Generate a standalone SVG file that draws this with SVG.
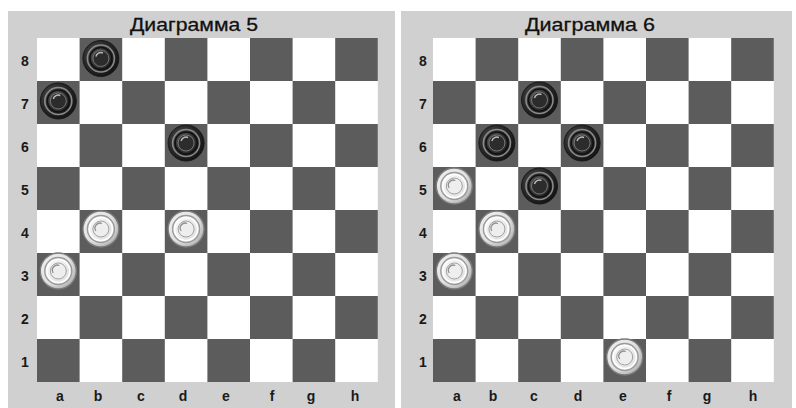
<svg xmlns="http://www.w3.org/2000/svg" xmlns:xlink="http://www.w3.org/1999/xlink" width="796" height="408" viewBox="0 0 796 408">
<defs>
<style>
.panel{fill:#d0d0d0}
.lt{fill:#ffffff}
.dk{fill:#5c5c5c}
.title{font-family:"Liberation Sans",Arial,sans-serif;font-size:19px;fill:#111;stroke:#111;stroke-width:0.3}
.lbl{font-family:"Liberation Sans",Arial,sans-serif;font-size:14px;font-weight:bold;fill:#1a1a1a;text-anchor:middle}
</style>
<radialGradient id="bgrad" cx="0.4" cy="0.4" r="0.65">
<stop offset="0" stop-color="#5a5a5a"/>
<stop offset="0.6" stop-color="#2a2a2a"/>
<stop offset="1" stop-color="#111"/>
</radialGradient>
<radialGradient id="wgrad" cx="0.4" cy="0.4" r="0.65">
<stop offset="0" stop-color="#fafafa"/>
<stop offset="0.7" stop-color="#e2e2e2"/>
<stop offset="1" stop-color="#a8a8a8"/>
</radialGradient>
<g id="black">
<circle r="18" fill="url(#bgrad)" stroke="#1a1a1a" stroke-width="1"/>
<circle r="13.5" fill="none" stroke="#8a8a8a" stroke-width="1.6"/>
<circle r="11" fill="none" stroke="#111" stroke-width="1.5"/>
<circle r="8" fill="#2c2c2c" stroke="#777" stroke-width="1"/>
<path d="M-5,-2 A5,5 0 0 1 2,-5.5" fill="none" stroke="#bbb" stroke-width="1.4"/>
</g>
<g id="white">
<circle r="18" fill="url(#wgrad)" stroke="#7a7a7a" stroke-width="1.3"/>
<circle r="13.5" fill="none" stroke="#9a9a9a" stroke-width="1.4"/>
<circle r="11.5" fill="none" stroke="#ffffff" stroke-width="1.5"/>
<circle r="8" fill="#eeeeee" stroke="#a0a0a0" stroke-width="1"/>
<path d="M-5,2 A5,5 0 0 1 1,-5.5" fill="none" stroke="#909090" stroke-width="1.3"/>
</g>
</defs>
<rect width="796" height="408" fill="#ffffff"/>

<g id="diagram5">
<rect class="panel" x="8" y="11" width="387" height="397"/>
<text class="title" x="130" y="31" textLength="128" lengthAdjust="spacingAndGlyphs">Диаграмма 5</text>
<g id="board5">
<rect class="lt" x="37" y="38" width="340.8" height="344"/>
<rect class="dk" x="79.6" y="38" width="42.6" height="43"/>
<rect class="dk" x="164.8" y="38" width="42.6" height="43"/>
<rect class="dk" x="250" y="38" width="42.6" height="43"/>
<rect class="dk" x="335.2" y="38" width="42.6" height="43"/>
<rect class="dk" x="37" y="81" width="42.6" height="43"/>
<rect class="dk" x="122.2" y="81" width="42.6" height="43"/>
<rect class="dk" x="207.4" y="81" width="42.6" height="43"/>
<rect class="dk" x="292.6" y="81" width="42.6" height="43"/>
<rect class="dk" x="79.6" y="124" width="42.6" height="43"/>
<rect class="dk" x="164.8" y="124" width="42.6" height="43"/>
<rect class="dk" x="250" y="124" width="42.6" height="43"/>
<rect class="dk" x="335.2" y="124" width="42.6" height="43"/>
<rect class="dk" x="37" y="167" width="42.6" height="43"/>
<rect class="dk" x="122.2" y="167" width="42.6" height="43"/>
<rect class="dk" x="207.4" y="167" width="42.6" height="43"/>
<rect class="dk" x="292.6" y="167" width="42.6" height="43"/>
<rect class="dk" x="79.6" y="210" width="42.6" height="43"/>
<rect class="dk" x="164.8" y="210" width="42.6" height="43"/>
<rect class="dk" x="250" y="210" width="42.6" height="43"/>
<rect class="dk" x="335.2" y="210" width="42.6" height="43"/>
<rect class="dk" x="37" y="253" width="42.6" height="43"/>
<rect class="dk" x="122.2" y="253" width="42.6" height="43"/>
<rect class="dk" x="207.4" y="253" width="42.6" height="43"/>
<rect class="dk" x="292.6" y="253" width="42.6" height="43"/>
<rect class="dk" x="79.6" y="296" width="42.6" height="43"/>
<rect class="dk" x="164.8" y="296" width="42.6" height="43"/>
<rect class="dk" x="250" y="296" width="42.6" height="43"/>
<rect class="dk" x="335.2" y="296" width="42.6" height="43"/>
<rect class="dk" x="37" y="339" width="42.6" height="43"/>
<rect class="dk" x="122.2" y="339" width="42.6" height="43"/>
<rect class="dk" x="207.4" y="339" width="42.6" height="43"/>
<rect class="dk" x="292.6" y="339" width="42.6" height="43"/>
</g>
<g id="ranks5">
<text class="lbl" x="25" y="66">8</text>
<text class="lbl" x="25" y="109">7</text>
<text class="lbl" x="25" y="152">6</text>
<text class="lbl" x="25" y="195">5</text>
<text class="lbl" x="25" y="238">4</text>
<text class="lbl" x="25" y="281">3</text>
<text class="lbl" x="25" y="324">2</text>
<text class="lbl" x="25" y="367">1</text>
</g>
<g id="files5">
<text class="lbl" x="60" y="401">a</text>
<text class="lbl" x="98" y="401">b</text>
<text class="lbl" x="141" y="401">c</text>
<text class="lbl" x="183" y="401">d</text>
<text class="lbl" x="226" y="401">e</text>
<text class="lbl" x="272" y="401">f</text>
<text class="lbl" x="311" y="401">g</text>
<text class="lbl" x="355" y="401">h</text>
</g>
<g id="pieces5">
<use xlink:href="#black" x="100.9" y="58.5"/>
<use xlink:href="#black" x="58.3" y="101"/>
<use xlink:href="#black" x="186.1" y="143"/>
<use xlink:href="#white" x="100.9" y="229"/>
<use xlink:href="#white" x="186.1" y="229"/>
<use xlink:href="#white" x="58.3" y="271"/>
</g>
</g>

<g id="diagram6">
<rect class="panel" x="401" y="11" width="391" height="397"/>
<text class="title" x="525" y="31" textLength="130" lengthAdjust="spacingAndGlyphs">Диаграмма 6</text>
<g id="board6">
<rect class="lt" x="433" y="38" width="340.8" height="344"/>
<rect class="dk" x="475.6" y="38" width="42.6" height="43"/>
<rect class="dk" x="560.8" y="38" width="42.6" height="43"/>
<rect class="dk" x="646" y="38" width="42.6" height="43"/>
<rect class="dk" x="731.2" y="38" width="42.6" height="43"/>
<rect class="dk" x="433" y="81" width="42.6" height="43"/>
<rect class="dk" x="518.2" y="81" width="42.6" height="43"/>
<rect class="dk" x="603.4" y="81" width="42.6" height="43"/>
<rect class="dk" x="688.6" y="81" width="42.6" height="43"/>
<rect class="dk" x="475.6" y="124" width="42.6" height="43"/>
<rect class="dk" x="560.8" y="124" width="42.6" height="43"/>
<rect class="dk" x="646" y="124" width="42.6" height="43"/>
<rect class="dk" x="731.2" y="124" width="42.6" height="43"/>
<rect class="dk" x="433" y="167" width="42.6" height="43"/>
<rect class="dk" x="518.2" y="167" width="42.6" height="43"/>
<rect class="dk" x="603.4" y="167" width="42.6" height="43"/>
<rect class="dk" x="688.6" y="167" width="42.6" height="43"/>
<rect class="dk" x="475.6" y="210" width="42.6" height="43"/>
<rect class="dk" x="560.8" y="210" width="42.6" height="43"/>
<rect class="dk" x="646" y="210" width="42.6" height="43"/>
<rect class="dk" x="731.2" y="210" width="42.6" height="43"/>
<rect class="dk" x="433" y="253" width="42.6" height="43"/>
<rect class="dk" x="518.2" y="253" width="42.6" height="43"/>
<rect class="dk" x="603.4" y="253" width="42.6" height="43"/>
<rect class="dk" x="688.6" y="253" width="42.6" height="43"/>
<rect class="dk" x="475.6" y="296" width="42.6" height="43"/>
<rect class="dk" x="560.8" y="296" width="42.6" height="43"/>
<rect class="dk" x="646" y="296" width="42.6" height="43"/>
<rect class="dk" x="731.2" y="296" width="42.6" height="43"/>
<rect class="dk" x="433" y="339" width="42.6" height="43"/>
<rect class="dk" x="518.2" y="339" width="42.6" height="43"/>
<rect class="dk" x="603.4" y="339" width="42.6" height="43"/>
<rect class="dk" x="688.6" y="339" width="42.6" height="43"/>
</g>
<g id="ranks6">
<text class="lbl" x="423" y="66">8</text>
<text class="lbl" x="423" y="109">7</text>
<text class="lbl" x="423" y="152">6</text>
<text class="lbl" x="423" y="195">5</text>
<text class="lbl" x="423" y="238">4</text>
<text class="lbl" x="423" y="281">3</text>
<text class="lbl" x="423" y="324">2</text>
<text class="lbl" x="423" y="367">1</text>
</g>
<g id="files6">
<text class="lbl" x="457" y="401">a</text>
<text class="lbl" x="493" y="401">b</text>
<text class="lbl" x="534" y="401">c</text>
<text class="lbl" x="578" y="401">d</text>
<text class="lbl" x="623" y="401">e</text>
<text class="lbl" x="669" y="401">f</text>
<text class="lbl" x="707" y="401">g</text>
<text class="lbl" x="753" y="401">h</text>
</g>
<g id="pieces6">
<use xlink:href="#black" x="539.5" y="100"/>
<use xlink:href="#black" x="496.9" y="143"/>
<use xlink:href="#black" x="582.1" y="143"/>
<use xlink:href="#black" x="539.5" y="186"/>
<use xlink:href="#white" x="454.3" y="186"/>
<use xlink:href="#white" x="496.9" y="229"/>
<use xlink:href="#white" x="454.3" y="271"/>
<use xlink:href="#white" x="624.7" y="357"/>
</g>
</g>
</svg>
